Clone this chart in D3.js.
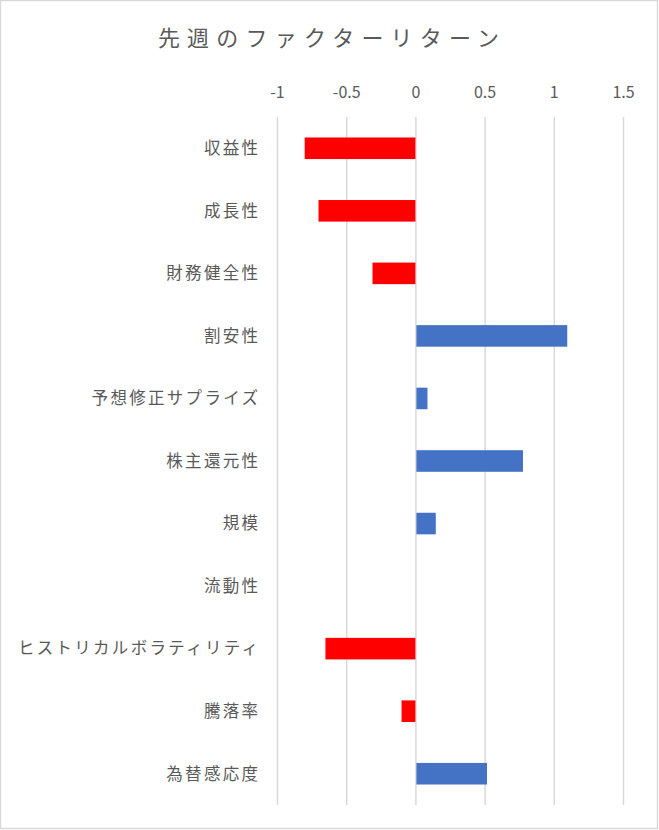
<!DOCTYPE html>
<html>
<head>
<meta charset="utf-8">
<script src="https://cdn.jsdelivr.net/npm/d3@7"></script>
<style>
  body { margin: 0; background: #fff; }
  text { font-family: "Noto Sans CJK JP", "Noto Sans", sans-serif; fill: #595959; }
</style>
</head>
<body>
<div id="chart"></div>
<script>
// data
var categories = ["収益性", "成長性", "財務健全性", "割安性", "予想修正サプライズ", "株主還元性",
                  "規模", "流動性", "ヒストリカルボラティリティ", "騰落率", "為替感応度"];
var returns = [-0.80, -0.70, -0.31, 1.09, 0.08, 0.77, 0.14, 0.00, -0.65, -0.10, 0.51];
var tickValues = [-1, -0.5, 0, 0.5, 1, 1.5];
var title = "先週のファクターリターン";

var width = 659, height = 830;

var svg = d3.select("#chart").append("svg")
    .attr("width", width)
    .attr("height", height);

// outer frame
svg.append("rect")
    .attr("x", 0.5)
    .attr("y", 0.5)
    .attr("width", width - 2)
    .attr("height", height - 2)
    .attr("fill", "#fff")
    .attr("stroke", "#d9d9d9")
    .attr("stroke-width", 1.5);

var x = d3.scaleLinear()
    .domain([-1, 1.5])
    .range([277, 623]);

var y = d3.scaleBand()
    .domain(categories)
    .range([117, 805])
    .paddingInner(0.655)
    .paddingOuter(0.655 / 2);

// grid lines
var grid = svg.append("g")
    .attr("transform", "translate(0,805)")
    .call(d3.axisTop(x).tickValues(tickValues).tickSize(688).tickFormat(""));
grid.select(".domain").remove();
grid.selectAll("line")
    .attr("stroke", "#d9d9d9")
    .attr("stroke-width", 1.5);

// tick labels at top (plain hyphen for minus, like Excel)
var axis = svg.append("g")
    .attr("transform", "translate(0,98)")
    .call(d3.axisTop(x).tickValues(tickValues).tickSize(0).tickPadding(0)
        .tickFormat(function(d) { return String(d); }));
axis.select(".domain").remove();
axis.selectAll("text")
    .style("font-size", "16px")
    .attr("fill", "#595959");

// bars
svg.append("g")
    .selectAll("rect")
    .data(returns)
    .join("rect")
    .attr("x", function(d) { return d < 0 ? x(d) : x(0) + 1; })
    .attr("y", function(d, i) { return y(categories[i]); })
    .attr("width", function(d) { return Math.abs(x(d) - x(0)); })
    .attr("height", y.bandwidth())
    .attr("fill", function(d) { return d < 0 ? "#ff0000" : "#4472c4"; });

// category labels
var ls = 2.3;
svg.append("g")
    .selectAll("text")
    .data(categories)
    .join("text")
    .attr("x", 258 + ls)
    .attr("y", function(d) { return y(d) + y.bandwidth() / 2; })
    .attr("dy", "0.35em")
    .attr("text-anchor", "end")
    .style("font-size", "16.5px")
    .style("letter-spacing", ls + "px")
    .text(function(d) { return d; });

// title
var tls = 7.2;
svg.append("text")
    .attr("x", 328.5 + tls / 2)
    .attr("y", 46)
    .attr("text-anchor", "middle")
    .style("font-size", "22px")
    .style("letter-spacing", tls + "px")
    .text(title);
</script>
</body>
</html>
